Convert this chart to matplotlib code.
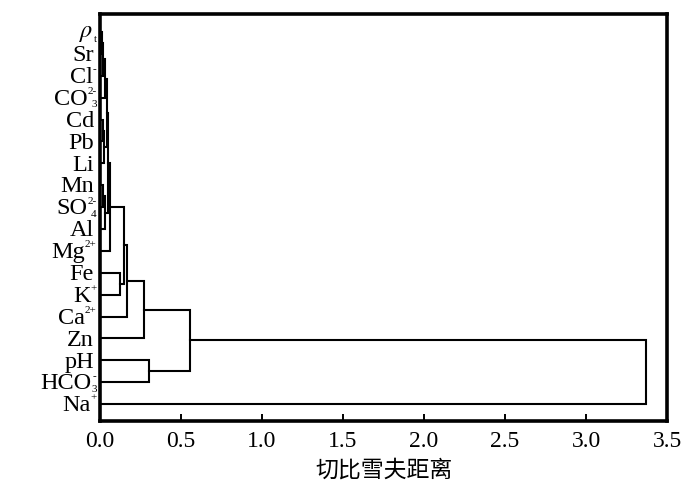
import matplotlib
matplotlib.use('Agg')
import matplotlib.pyplot as plt
from matplotlib.transforms import blended_transform_factory, offset_copy

plt.rcParams['font.family'] = ['Liberation Serif', 'DejaVu Serif']
plt.rcParams['mathtext.fontset'] = 'stix'

# leaf labels, top to bottom: base text, superscript, subscript
leaf_base = [r'$\rho$', 'Sr', 'Cl', 'CO', 'Cd', 'Pb', 'Li', 'Mn', 'SO', 'Al', 'Mg',
             'Fe', 'K', 'Ca', 'Zn', 'pH', 'HCO', 'Na']
leaf_sup = ['', '', '-', '2-', '', '', '', '', '2-', '', '2+', '', '+', '2+', '', '', '-', '+']
leaf_sub = ['t', '', '', '3', '', '', '', '', '4', '', '', '', '', '', '', '', '3', '']

# merges: (left child, right child, distance); leaves are 0..17, new nodes 18, 19, ...
merge_left = [0, 18, 19, 4, 21, 7, 23, 20, 25, 26, 11, 27, 29, 30, 15, 31, 33]
merge_right = [1, 2, 3, 5, 6, 8, 9, 22, 24, 10, 12, 28, 13, 14, 16, 32, 17]
merge_dist = [0.012, 0.018, 0.030, 0.020, 0.025, 0.020, 0.030, 0.040, 0.050, 0.060,
              0.123, 0.145, 0.165, 0.273, 0.300, 0.555, 3.37]

x_ticks = [0.0, 0.5, 1.0, 1.5, 2.0, 2.5, 3.0, 3.5]

fig = plt.figure(figsize=(7.0, 5.02), dpi=100)
ax = fig.add_axes([0.143, 0.159, 0.810, 0.811])

n = len(leaf_base)
pos = {i: float(i) for i in range(n)}
height = {i: 0.0 for i in range(n)}

for k, (a, b, d) in enumerate(zip(merge_left, merge_right, merge_dist)):
    node = n + k
    ya, yb = pos[a], pos[b]
    ax.plot([height[a], d, d, height[b]], [ya, ya, yb, yb], color='black', lw=1.5,
            solid_joinstyle='miter')
    pos[node] = (ya + yb) / 2
    height[node] = d

ax.set_xlim(0, 3.5)
ax.set_ylim(n - 0.22, -0.82)
ax.set_xticks(x_ticks)
ax.set_xticklabels([f'{t:.1f}' for t in x_ticks], fontsize=17)
ax.set_yticks([])
ax.tick_params(axis='x', direction='in', length=5, width=1.4, pad=6)
for s in ax.spines.values():
    s.set_linewidth(2.6)

# leaf labels with small raised / lowered scripts
trans = blended_transform_factory(ax.transAxes, ax.transData)
renderer = fig.canvas.get_renderer()
for i in range(n):
    script_w = 0.0
    for s, dy in ((leaf_sup[i], 5.0), (leaf_sub[i], -4.5)):
        if s:
            t = ax.text(0, i, s, ha='right', va='center', fontsize=8,
                        transform=offset_copy(trans, fig, x=-2.5, y=dy, units='points'))
            script_w = max(script_w, t.get_window_extent(renderer).width * 72 / fig.dpi)
    x_off = -4.5 if script_w == 0 else -2.5 - script_w
    ax.text(0, i, leaf_base[i], ha='right', va='center', fontsize=17.5,
            transform=offset_copy(trans, fig, x=x_off, y=-0.5, units='points'))

ax.set_xlabel('切比雪夫距离', fontsize=16.5, family=['Noto Sans CJK SC', 'DejaVu Sans'],
              labelpad=5)

fig.savefig('out.png', dpi=100)
